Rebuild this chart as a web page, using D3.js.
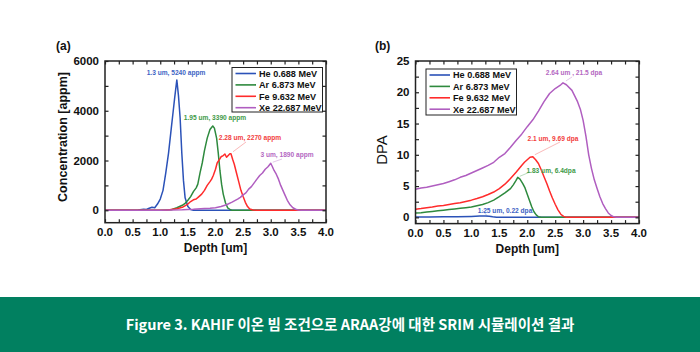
<!DOCTYPE html>
<html><head><meta charset="utf-8">
<script src="https://cdn.jsdelivr.net/npm/d3@7"></script>
<style>
html,body{margin:0;padding:0;background:#fff;}
svg{display:block;}
</style></head>
<body>
<script>
// ---------- DATA ----------
const seriesNames = ["He 0.688 MeV","Ar 6.873 MeV","Fe 9.632 MeV","Xe 22.687 MeV"];
const xTicksMajor = [0,0.5,1,1.5,2,2.5,3,3.5,4];
const concTicks = [0,2000,4000,6000];
const dpaTicks = [0,5,10,15,20,25];

const heConc = [[0,0],[0.5,0],[0.6,10],[0.7,40],[0.75,30],[0.8,80],[0.85,120],[0.9,100],[0.95,250],[1.0,450],[1.05,800],[1.1,1500],[1.15,2300],[1.2,3300],[1.23,3900],[1.26,4500],[1.3,5240],[1.33,4600],[1.36,3700],[1.39,2300],[1.42,1200],[1.45,500],[1.5,150],[1.55,30],[1.6,0],[4,0]];
const arConc = [[0,0],[1.0,0],[1.2,20],[1.3,100],[1.4,200],[1.45,280],[1.5,400],[1.55,550],[1.6,750],[1.65,900],[1.68,1050],[1.72,1500],[1.76,1900],[1.8,2400],[1.85,2900],[1.9,3250],[1.95,3390],[1.98,3300],[2.02,2900],[2.05,2300],[2.08,1600],[2.11,1050],[2.14,650],[2.18,300],[2.22,100],[2.27,20],[2.3,0],[4,0]];
const feConc = [[0,0],[1.1,0],[1.2,30],[1.3,60],[1.4,120],[1.5,250],[1.55,350],[1.6,420],[1.65,450],[1.7,550],[1.75,650],[1.8,800],[1.85,1000],[1.9,1150],[1.93,1250],[1.96,1400],[2.0,1650],[2.03,1900],[2.06,2000],[2.1,2150],[2.14,2200],[2.17,2260],[2.2,2130],[2.23,2200],[2.26,2270],[2.28,2270],[2.31,2050],[2.34,1850],[2.38,1500],[2.42,1150],[2.46,800],[2.5,550],[2.54,320],[2.58,150],[2.62,50],[2.68,10],[2.75,0],[4,0]];
const xeConc = [[0,0],[1.0,0],[1.2,10],[1.4,20],[1.6,40],[1.8,70],[1.9,80],[2.0,100],[2.1,150],[2.2,220],[2.3,330],[2.4,450],[2.45,520],[2.5,620],[2.55,700],[2.6,850],[2.65,950],[2.7,1100],[2.75,1250],[2.8,1400],[2.85,1500],[2.9,1650],[2.95,1750],[3.0,1890],[3.03,1750],[3.06,1600],[3.1,1450],[3.14,1250],[3.18,1000],[3.22,800],[3.26,600],[3.3,400],[3.35,220],[3.4,100],[3.45,40],[3.5,10],[3.55,0],[4,0]];

const heDpa = [[0,0.05],[0.25,0.06],[0.5,0.08],[0.75,0.1],[1.0,0.15],[1.15,0.2],[1.25,0.22],[1.32,0.18],[1.38,0.08],[1.45,0.02],[1.5,0],[4,0]];
const arDpa = [[0,0.7],[0.1,0.75],[0.2,0.85],[0.3,0.95],[0.4,1.05],[0.5,1.15],[0.6,1.25],[0.7,1.35],[0.8,1.45],[0.9,1.55],[1.0,1.65],[1.1,1.85],[1.2,2.05],[1.3,2.35],[1.4,2.75],[1.5,3.3],[1.6,3.9],[1.7,4.6],[1.75,5.2],[1.8,5.9],[1.83,6.4],[1.87,6.1],[1.92,5.4],[1.96,4.7],[2.0,3.7],[2.04,2.7],[2.08,1.7],[2.12,0.9],[2.16,0.4],[2.2,0.1],[2.25,0],[4,0]];
const feDpa = [[0,1.3],[0.1,1.4],[0.2,1.55],[0.3,1.65],[0.4,1.8],[0.5,1.9],[0.6,2.05],[0.7,2.2],[0.8,2.35],[0.9,2.55],[1.0,2.75],[1.1,3.0],[1.2,3.3],[1.3,3.65],[1.4,4.05],[1.5,4.6],[1.6,5.3],[1.7,6.2],[1.8,7.2],[1.9,8.3],[1.95,8.8],[2.0,9.2],[2.05,9.6],[2.1,9.69],[2.15,9.2],[2.2,8.6],[2.25,7.6],[2.3,6.5],[2.35,5.4],[2.4,4.2],[2.45,3.1],[2.5,2.1],[2.55,1.2],[2.6,0.5],[2.65,0.15],[2.7,0],[4,0]];
const xeDpa = [[0,4.5],[0.1,4.7],[0.2,4.8],[0.3,5.0],[0.4,5.2],[0.5,5.4],[0.6,5.7],[0.7,6.0],[0.8,6.4],[0.9,6.7],[1.0,7.1],[1.1,7.5],[1.2,7.9],[1.3,8.3],[1.4,8.8],[1.5,9.6],[1.6,10.2],[1.7,11.2],[1.8,12.3],[1.9,13.3],[2.0,14.5],[2.1,15.6],[2.2,17.0],[2.3,18.5],[2.4,19.8],[2.5,20.6],[2.6,21.2],[2.64,21.5],[2.7,21.2],[2.8,20.3],[2.9,18.5],[2.95,17.3],[3.0,15.5],[3.05,13],[3.1,10],[3.15,7.8],[3.2,6],[3.25,4.6],[3.3,3.3],[3.35,2.2],[3.4,1.4],[3.45,0.7],[3.5,0.3],[3.55,0.08],[3.6,0],[4,0]];

const concAnnot = [
  {x:1.3, y:5240, text:"1.3 um, 5240 appm", s:0},
  {x:1.95, y:3390, text:"1.95 um, 3390 appm", s:1},
  {x:2.28, y:2270, text:"2.28 um, 2270 appm", s:2},
  {x:3.0, y:1890, text:"3 um, 1890 appm", s:3}
];
const dpaAnnot = [
  {x:1.25, y:0.22, text:"1.25 um, 0.22 dpa", s:0},
  {x:1.83, y:6.4, text:"1.83 um, 6.4dpa", s:1},
  {x:2.1, y:9.69, text:"2.1 um, 9.69 dpa", s:2},
  {x:2.64, y:21.5, text:"2.64 um , 21.5 dpa", s:3}
];

// ---------- STYLE ----------
const colors = ["#2b52b8","#2e8a3e","#ff2b2b","#b05ec0"];
const annColors = ["#3d63c4","#3e9a48","#f23d3d","#b468c2"];
const W = 700, H = 352;
const FONT = "'Liberation Sans', Arial, sans-serif";

const svg = d3.select("body").append("svg").attr("width", W).attr("height", H);

function panel(cfg) {
  const x = d3.scaleLinear().domain([0,4]).range([cfg.left, cfg.right]);
  const y = d3.scaleLinear().domain(cfg.ydom).range([cfg.bottom, cfg.top]);
  const g = svg.append("g");

  const cid = "clip" + cfg.id;
  svg.append("clipPath").attr("id", cid).append("rect")
    .attr("x", cfg.left).attr("y", cfg.top).attr("width", cfg.right-cfg.left).attr("height", cfg.bottom-cfg.top);

  const line = d3.line().x(d=>x(d[0])).y(d=>y(d[1]));
  const lg = g.append("g").attr("clip-path", `url(#${cid})`);
  cfg.data.forEach((d,i)=>{
    lg.append("path").attr("d", line(d)).attr("fill","none")
      .attr("stroke", colors[i]).attr("stroke-width", 1.5).attr("stroke-linejoin","round");
  });

  cfg.annots.forEach((a,i)=>{
    const px = x(a.x), py = y(a.y);
    const tx = cfg.annPos[i][0], ty = cfg.annPos[i][1];
    if (cfg.annLine[i]) {
      g.append("line").attr("x1", px+cfg.annLine[i][0]).attr("y1", py+cfg.annLine[i][1])
        .attr("x2", cfg.annLine[i][2]).attr("y2", cfg.annLine[i][3])
        .attr("stroke", annColors[a.s]).attr("stroke-width", 0.6).attr("opacity", 0.6);
    }
    g.append("text").attr("x", tx).attr("y", ty).attr("text-anchor","middle")
      .attr("font-family", FONT).attr("font-weight","bold").attr("font-size", 6.6)
      .attr("fill", annColors[a.s]).text(a.text);
  });

  const minorX = d3.range(0, 4.001, 0.25);
  const bottomAx = d3.axisBottom(x).tickValues(minorX).tickSize(-3.5).tickFormat("");
  const topAx = d3.axisTop(x).tickValues(minorX).tickSize(-3.5).tickFormat("");
  const leftAx = d3.axisLeft(y).tickValues(cfg.yMinor).tickSize(-3.5).tickFormat("");
  const rightAx = d3.axisRight(y).tickValues(cfg.yMinor).tickSize(-3.5).tickFormat("");
  [[bottomAx,`translate(0,${cfg.bottom})`],[topAx,`translate(0,${cfg.top})`],
   [leftAx,`translate(${cfg.left},0)`],[rightAx,`translate(${cfg.right},0)`]].forEach(([ax,tr])=>{
    const a = g.append("g").attr("transform", tr).call(ax);
    a.select(".domain").remove();
    a.selectAll("line").attr("stroke","#222").attr("stroke-width",1.2);
  });

  g.append("rect").attr("x", cfg.left).attr("y", cfg.top)
    .attr("width", cfg.right-cfg.left).attr("height", cfg.bottom-cfg.top)
    .attr("fill","none").attr("stroke","#222").attr("stroke-width",1.5);

  xTicksMajor.forEach(v=>{
    g.append("text").attr("x", x(v)).attr("y", cfg.bottom+13).attr("text-anchor","middle")
      .attr("font-family", FONT).attr("font-weight","bold").attr("font-size", 11.5)
      .attr("fill","#111").text(d3.format(".1f")(v));
  });
  cfg.yTicks.forEach(v=>{
    g.append("text").attr("x", cfg.left-6).attr("y", y(v)+4).attr("text-anchor","end")
      .attr("font-family", FONT).attr("font-weight","bold").attr("font-size", 11.5)
      .attr("fill","#111").text(v);
  });

  g.append("text").attr("x", (cfg.left+cfg.right)/2).attr("y", cfg.bottom+29).attr("text-anchor","middle")
    .attr("font-family", FONT).attr("font-weight","bold").attr("font-size", 12)
    .attr("fill","#111").text("Depth [um]");
  g.append("text").attr("transform", `translate(${cfg.ylabX},${cfg.ylabY}) rotate(-90)`)
    .attr("text-anchor","middle").attr("font-family", FONT)
    .attr("font-weight", cfg.ylabBold ? "bold":"normal").attr("font-size", cfg.ylabSize)
    .attr("fill","#111").text(cfg.ylab);
  g.append("text").attr("x", cfg.tagX).attr("y", 50).attr("font-family", FONT)
    .attr("font-weight","bold").attr("font-size", 12).attr("fill","#111").text(cfg.tag);

  const L = cfg.legend;
  g.append("rect").attr("x", L.x).attr("y", L.y).attr("width", L.w).attr("height", L.h)
    .attr("fill","#fff").attr("stroke","#222").attr("stroke-width",1);
  seriesNames.forEach((n,i)=>{
    const yy = L.y + 6 + i*11.4;
    g.append("line").attr("x1", L.x+3.5).attr("x2", L.x+24).attr("y1", yy).attr("y2", yy)
      .attr("stroke", colors[i]).attr("stroke-width", 1.6);
    g.append("text").attr("x", L.x+27).attr("y", yy+3.3).attr("font-family", FONT)
      .attr("font-weight","bold").attr("font-size", 9.1).attr("fill","#111").text(n);
  });
}

panel({
  id:"a", left:105, right:326, top:61, bottom:222.7, ydom:[-500,6000],
  yTicks: concTicks, yMinor: d3.range(0,6001,1000),
  data:[heConc, arConc, feConc, xeConc], annots: concAnnot,
  annPos:[[176,75],[215,120],[250,140],[287,157]],
  annLine:[null, null, [2,-2,246,142], [2,-1,282,159]],
  ylab:"Concentration [appm]", ylabX:67, ylabY:137, ylabBold:true, ylabSize:12.5,
  tag:"(a)", tagX:56,
  legend:{x:232, y:67.5, w:90.5, h:44.5}
});

panel({
  id:"b", left:415.5, right:639, top:61, bottom:223.6, ydom:[-1,25],
  yTicks: dpaTicks, yMinor: d3.range(0,25.01,2.5),
  data:[heDpa, arDpa, feDpa, xeDpa], annots: dpaAnnot,
  annPos:[[505,212.5],[551,172.5],[553,140.5],[574,75]],
  annLine:[[2,0,482,210],[2,-1,530,172],[2,-2,560,142],[3,-2,572,77]],
  ylab:"DPA", ylabX:387, ylabY:150, ylabBold:false, ylabSize:15,
  tag:"(b)", tagX:375,
  legend:{x:426, y:69, w:90.5, h:46}
});

svg.append("rect").attr("x",0).attr("y",297).attr("width",W).attr("height",H-297).attr("fill","#018060");
svg.append("text").attr("x", 350).attr("y", 330).attr("text-anchor","middle")
  .attr("font-family","'Noto Sans CJK KR', 'Noto Sans', sans-serif").attr("font-weight","bold")
  .attr("font-size", 14.5).attr("fill","#fff")
  .text("Figure 3. KAHIF 이온 빔 조건으로 ARAA강에 대한 SRIM 시뮬레이션 결과");
</script>
</body></html>
